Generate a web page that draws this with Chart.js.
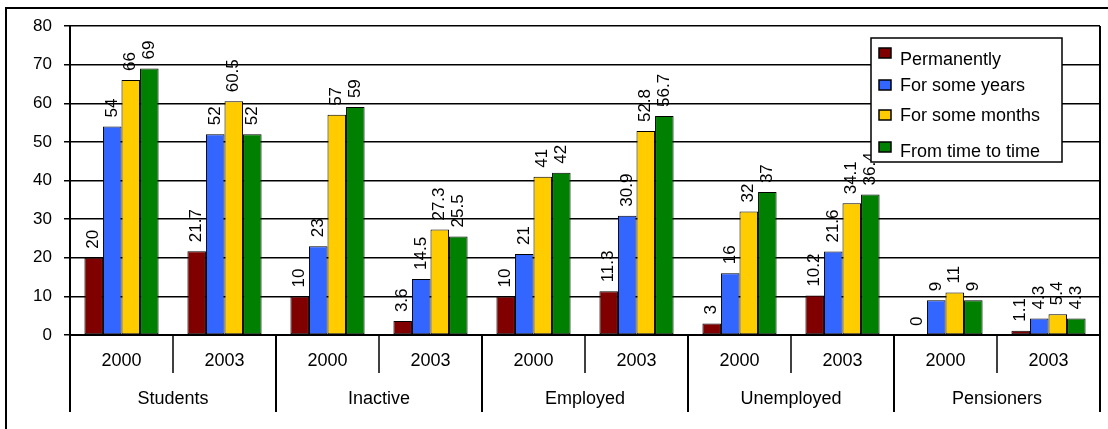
<!DOCTYPE html>
<html>
<head>
<meta charset="utf-8">
<script src="https://cdn.jsdelivr.net/npm/chart.js@4"></script>
<style>
	html, body { margin: 0; padding: 0; background: #fff; }
	#wrap { width: 1108px; height: 429px; }
</style>
</head>
<body>
<div id="wrap"><canvas id="chart"></canvas></div>
<script>
const groups = ["Students", "Inactive", "Employed", "Unemployed", "Pensioners"];
const years = ["2000", "2003"];
const seriesNames = ["Permanently", "For some years", "For some months", "From time to time"];
const seriesColors = ["#800000", "#3366ff", "#ffcc00", "#008000"];

// one value per group/year pair, in order Students 2000, Students 2003, ...
const permanently = [20, 21.7, 10, 3.6, 10, 11.3, 3, 10.2, 0, 1.1];
const someYears = [54, 52, 23, 14.5, 21, 30.9, 16, 21.6, 9, 4.3];
const someMonths = [66, 60.5, 57, 27.3, 41, 52.8, 32, 34.1, 11, 5.4];
const timeToTime = [69, 52, 59, 25.5, 42, 56.7, 37, 36.4, 9, 4.3];
const yTicks = [0, 10, 20, 30, 40, 50, 60, 70, 80];

const FONT = "'Liberation Sans', Arial, sans-serif";

const labels = [];
groups.forEach(function() {
	years.forEach(function(y) { labels.push(y); });
});

const allSeries = [permanently, someYears, someMonths, timeToTime];

// rotated numbers above every bar
const valueLabels = {
	id: "valueLabels",
	afterDatasetsDraw(chart) {
		const ctx = chart.ctx;
		ctx.save();
		ctx.font = "17px " + FONT;
		ctx.fillStyle = "#000";
		ctx.textAlign = "left";
		ctx.textBaseline = "middle";
		chart.data.datasets.forEach(function(ds, i) {
			chart.getDatasetMeta(i).data.forEach(function(bar, j) {
				ctx.save();
				ctx.translate(bar.x, bar.y - 9);
				ctx.rotate(-Math.PI / 2);
				ctx.fillText(String(ds.data[j]), 0, 0);
				ctx.restore();
			});
		});
		ctx.restore();
	}
};

// two level category axis + frame + legend box
const decorations = {
	id: "decorations",
	afterDraw(chart) {
		const ctx = chart.ctx;
		const x = chart.scales.x;
		const area = chart.chartArea;
		const step = (x.right - x.left) / labels.length;
		ctx.save();
		ctx.strokeStyle = "#000";
		ctx.fillStyle = "#000";

		// outer frame (left and top only, the rest is cropped)
		ctx.lineWidth = 2;
		ctx.beginPath();
		ctx.moveTo(1108, 8);
		ctx.lineTo(6, 8);
		ctx.lineTo(6, 429);
		ctx.stroke();

		for (let i = 0; i <= labels.length; i++) {
			const px = Math.round(x.left + i * step);
			const groupEdge = i % years.length === 0;
			ctx.lineWidth = groupEdge ? 2 : 1.5;
			ctx.beginPath();
			ctx.moveTo(px, i === labels.length ? area.top : area.bottom);
			ctx.lineTo(px, groupEdge ? 412 : 373);
			ctx.stroke();
		}

		ctx.textAlign = "center";
		ctx.textBaseline = "middle";
		ctx.font = "18px " + FONT;
		labels.forEach(function(l, i) {
			ctx.fillText(l, x.getPixelForValue(i), 361);
		});
		groups.forEach(function(g, k) {
			const a = x.getPixelForValue(k * years.length);
			const b = x.getPixelForValue(k * years.length + years.length - 1);
			ctx.fillText(g, (a + b) / 2, 399);
		});

		// legend
		ctx.fillStyle = "#fff";
		ctx.fillRect(871, 38, 191, 124);
		ctx.lineWidth = 1.5;
		ctx.strokeRect(871, 38, 191, 124);
		const markerY = [53, 85, 115, 147];
		const textY = [60, 86, 116, 152];
		ctx.textAlign = "left";
		ctx.font = "18px " + FONT;
		chart.data.datasets.forEach(function(ds, i) {
			ctx.fillStyle = ds.backgroundColor;
			ctx.fillRect(879, markerY[i] - 5, 12, 10);
			ctx.lineWidth = 1.5;
			ctx.strokeRect(879, markerY[i] - 5, 12, 10);
			ctx.fillStyle = "#000";
			ctx.fillText(ds.label, 900, textY[i]);
		});
		ctx.restore();
	}
};

const ctx = document.getElementById("chart").getContext("2d");

const datasets = allSeries.map(function(values, i) {
	return {
		label: seriesNames[i],
		data: values,
		backgroundColor: seriesColors[i],
		borderColor: "#000",
		borderWidth: 1,
		borderSkipped: false,
		categoryPercentage: 0.72,
		barPercentage: 1.0
	};
});

new Chart(ctx, {
	type: "bar",
	data: {
		labels: labels,
		datasets: datasets
	},
	options: {
		responsive: true,
		maintainAspectRatio: false,
		animation: false,
		layout: {
			padding: { top: 26, right: 8, bottom: 5, left: 8 }
		},
		plugins: {
			legend: { display: false },
			tooltip: { enabled: false }
		},
		scales: {
			x: {
				type: "category",
				offset: true,
				grid: { display: false },
				ticks: { display: false },
				border: { display: true, color: "#000", width: 2 },
				afterFit: function(scale) { scale.height = 89; }
			},
			y: {
				min: yTicks[0],
				max: yTicks[yTicks.length - 1],
				ticks: {
					stepSize: yTicks[1] - yTicks[0],
					color: "#000",
					padding: 12,
					font: { family: FONT, size: 17 }
				},
				grid: { color: "#000", lineWidth: 1.5, tickLength: 6 },
				border: { display: true, color: "#000", width: 2 },
				afterFit: function(scale) { scale.width = 62; }
			}
		}
	},
	plugins: [valueLabels, decorations]
});
</script>
</body>
</html>
